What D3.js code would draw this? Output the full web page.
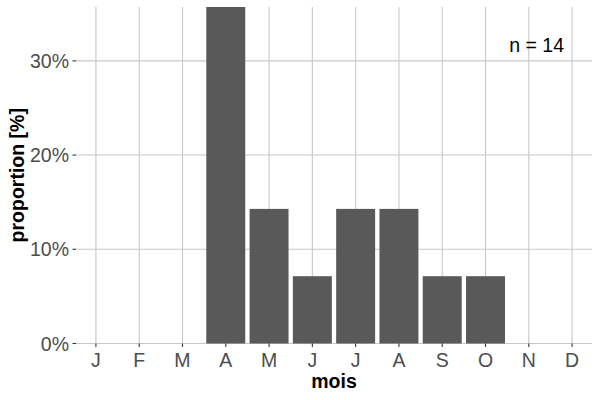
<!DOCTYPE html>
<html><head><meta charset="utf-8">
<script src="https://cdn.jsdelivr.net/npm/d3@7"></script>
<style>body{margin:0;background:#fff}text{font-family:"Liberation Sans",Arial,sans-serif}</style>
</head><body><svg id="c" width="600" height="400"></svg>
<script>
const months = ["J","F","M","A","M","J","J","A","S","O","N","D"];
const counts = [0,0,0,5,2,1,2,2,1,1,0,0];
const total = 14;
const yTicks = [0,0.1,0.2,0.3];

const svg = d3.select("#c");
const L=76,R=592,T=7,B=343.5;
const idx = months.map((_,i)=>i);
const exp = 0.46;
const x = d3.scaleLinear().domain([-exp, months.length-1+exp]).range([L,R]);
const y = d3.scaleLinear().domain([0, 5/14]).range([B,T]);
const grid="#c8c8c8";

svg.selectAll(".vg").data(idx).enter().append("line")
 .attr("x1",d=>x(d)).attr("x2",d=>x(d)).attr("y1",T).attr("y2",B)
 .attr("stroke",grid).attr("stroke-width",1.1);
svg.selectAll(".hg").data(yTicks).enter().append("line")
 .attr("x1",L).attr("x2",R).attr("y1",d=>y(d)).attr("y2",d=>y(d))
 .attr("stroke",grid).attr("stroke-width",1.1);

const bw=0.9;
svg.selectAll(".bar").data(idx.filter(i=>counts[i]>0)).enter().append("rect")
 .attr("x",d=>x(d-bw/2)).attr("width",x(bw)-x(0))
 .attr("y",d=>y(counts[d]/total)).attr("height",d=>B-y(counts[d]/total))
 .attr("fill","#595959");

svg.selectAll(".yt").data(yTicks).enter().append("line")
 .attr("x1",L-3.5).attr("x2",L).attr("y1",d=>y(d)).attr("y2",d=>y(d))
 .attr("stroke","#333").attr("stroke-width",1.1);
svg.selectAll(".yl").data(yTicks).enter().append("text")
 .attr("x",L-7).attr("y",d=>y(d)).attr("dy","0.36em").attr("text-anchor","end")
 .attr("font-size",19.5).attr("fill","#4d4d4d").text(d=>d3.format(".0%")(d));

svg.selectAll(".xt").data(idx).enter().append("line")
 .attr("x1",d=>x(d)).attr("x2",d=>x(d)).attr("y1",B).attr("y2",B+3.5)
 .attr("stroke","#333").attr("stroke-width",1.1);
svg.selectAll(".xl").data(idx).enter().append("text")
 .attr("x",d=>x(d)).attr("y",B+23.5).attr("text-anchor","middle")
 .attr("font-size",19.5).attr("fill","#4d4d4d").text(d=>months[d]);

svg.append("text").attr("x",(L+R)/2).attr("y",388).attr("text-anchor","middle")
 .attr("font-size",19.5).attr("font-weight","bold").text("mois");
svg.append("text").attr("transform",`translate(24,${(T+B)/2}) rotate(-90)`)
 .attr("text-anchor","middle").attr("font-size",19.5).attr("font-weight","bold").text("proportion [%]");

svg.append("text").attr("x",564).attr("y",52).attr("text-anchor","end")
 .attr("font-size",19.5).attr("fill","#000").text("n = "+total);
</script></body></html>
